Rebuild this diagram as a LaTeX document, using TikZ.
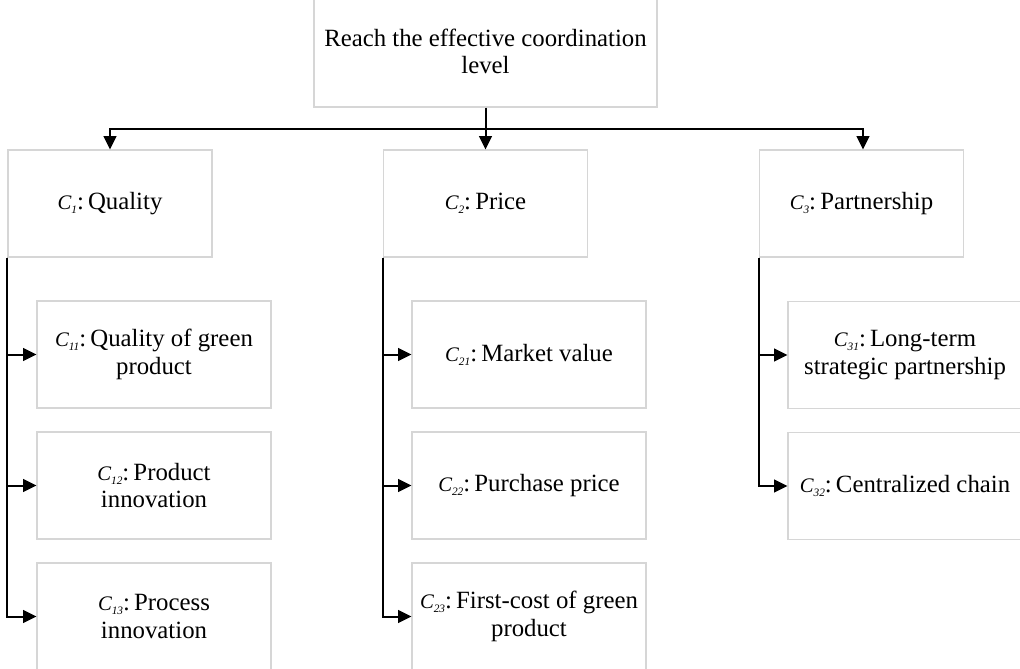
\documentclass[tikz,border=0pt]{standalone}
\usepackage{fontspec}
\setmainfont{Liberation Serif}
\usetikzlibrary{arrows.meta,calc}
\definecolor{boxgrey}{HTML}{D6D6D6}
\newcommand{\clab}[1]{{\fontsize{15.5}{18}\selectfont\itshape C}\raisebox{-0.35ex}{\fontsize{8.5}{9}\selectfont\itshape #1}:\,}
\tikzset{
  box/.style={draw=boxgrey, line width=0.8pt, fill=white, inner sep=0pt, align=center,
    font=\fontsize{18.6}{20.6}\selectfont},
  topbox/.style={box, minimum width=257.25pt, minimum height=83.25pt},
  catbox/.style={box, minimum width=153pt, minimum height=80.25pt},
  subbox/.style={box, minimum width=175.5pt, minimum height=80.25pt},
  conn/.style={draw=black, line width=1.5pt, -{Triangle[length=10pt,width=9.5pt]}},
  bus/.style={draw=black, line width=1.5pt}
}
\begin{document}
\begin{tikzpicture}[x=0.75pt,y=-0.75pt]
\useasboundingbox (0,0) rectangle (1020,668);
% top
\node[topbox] (top) at (485.5,51.5) {Reach the effective coordination\\level};
% categories
\node[catbox] (c1) at (110,203.5) {\clab{1}Quality};
\node[catbox] (c2) at (485.5,203.5) {\clab{2}Price};
\node[catbox] (c3) at (861.5,203.5) {\clab{3}Partnership};
% sub-criteria
\node[subbox] (c11) at (154,354.5) {\clab{11}Quality of green\\product};
\node[subbox] (c12) at (154,485.5) {\clab{12}Product\\innovation};
\node[subbox] (c13) at (154,616.5) {\clab{13}Process\\innovation};
\node[subbox] (c21) at (529,354.5) {\clab{21}Market value};
\node[subbox] (c22) at (529,485.5) {\clab{22}Purchase price};
\node[subbox] (c23) at (529,616.5) {\clab{23}First-cost of green\\product};
\node[subbox] (c31) at (905,355) {\clab{31}Long-term\\strategic partnership};
\node[subbox] (c32) at (905,486) {\clab{32}Centralized chain};
% connectors from top
\coordinate (busmid) at ($(top.south)!0.5!(c2.north)$);
\draw[conn] (top.south) -- (c2.north);
\draw[conn] (busmid) -| (c1.north);
\draw[conn] (busmid) -| ([xshift=1.125pt]c3.north);
% column trees
\draw[conn] (c1.south west) |- (c11.west);
\draw[conn] (c1.south west) |- (c12.west);
\draw[conn] (c1.south west) |- (c13.west);
\draw[conn] (c2.south west) |- (c21.west);
\draw[conn] (c2.south west) |- (c22.west);
\draw[conn] (c2.south west) |- (c23.west);
\draw[conn] (c3.south west) |- (c31.west);
\draw[conn] (c3.south west) |- (c32.west);
\end{tikzpicture}
\end{document}
